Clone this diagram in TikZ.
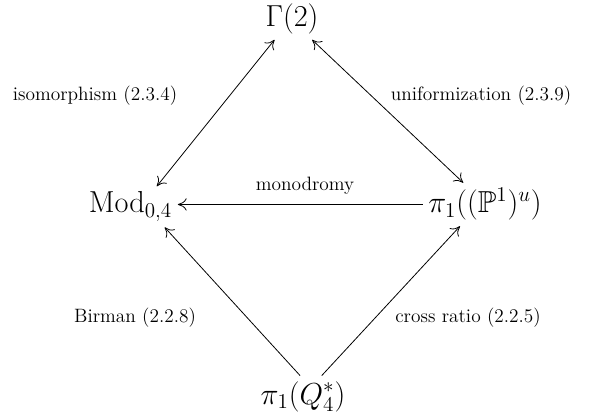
\documentclass[tikz,border=0pt]{standalone}
\usepackage{amsmath,amssymb}
\usetikzlibrary{arrows.meta}

\begin{document}
\begin{tikzpicture}[
    >={To[length=5pt,width=7pt]},
    grp/.style={font=\LARGE, inner sep=3pt},
    lbl/.style={font=\fontsize{11}{13}\selectfont, inner sep=1pt},
    every path/.style={line width=0.45pt}
  ]
\useasboundingbox (0,0) rectangle (12.3,8.34);

% Groups
\node[grp] (gamma) at (5.84,7.96) {$\Gamma(2)$};
\node[grp, anchor=base] (mod) at (2.61,4.08) {$\mathrm{Mod}_{0,4}$};
\node[grp, anchor=base] (pu) at (9.70,4.08) {$\pi_1((\mathbb{P}^1)^u)$};
\node[grp, anchor=base] (qstar) at (6.06,0.26) {$\pi_1(Q_4^*)$};

% Maps
\draw[<->] (mod.38) -- (gamma.-130);
\draw[<->] (pu.135) -- (gamma.-46);
\draw[->] (pu.west) -- (pu.west -| mod.east);
\draw[->] (qstar.98) -- (mod.-31);
\draw[->] (qstar.48) -- (pu.-139);

% Labels
\node[lbl] (iso) at (1.90,6.42) {isomorphism (2.3.4)};
\node[lbl] (unif) at (9.62,6.42) {uniformization (2.3.9)};
\node[lbl] (mono) at (6.10,4.62) {monodromy};
\node[lbl] (birman) at (2.70,1.98) {Birman (2.2.8)};
\node[lbl] (cross) at (9.36,1.98) {cross ratio (2.2.5)};

\end{tikzpicture}
\end{document}
